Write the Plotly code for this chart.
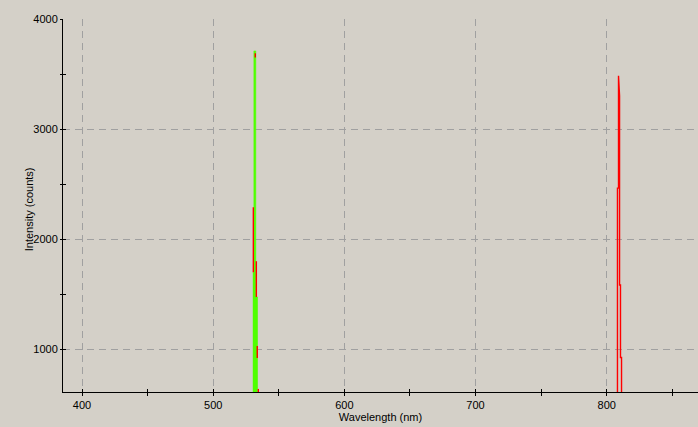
import plotly.graph_objects as go

# green channel peak near 531 nm (step edges in nm, counts)
green_wl = [530.2, 531.0, 532.5, 534.0]
green_counts = [1700, 3710, 1475, 1475]

# red channel strokes around 531 nm (None splits the strokes)
red1_wl = [530.6, 530.6, None, 532.1, 532.1, None, 532.9, 532.9, None, 533.6, 533.6, None, 534.4, 534.4]
red1_counts = [2290, 1700, None, 3690, 3650, None, 1800, 1475, None, 1030, 920, None, 640, 600]

# red channel peak near 810 nm
red2_wl = [808.2, 808.2, 809.0, 809.0, 809.8, 809.8, 810.5, 810.5, 811.3, 811.3]
red2_counts = [0, 2464, 2464, 3485, 3303, 1584, 1584, 926, 926, 0]

bg = '#d4d0c8'

fig = go.Figure()
fig.add_trace(go.Scatter(x=green_wl, y=green_counts, mode='lines', line_shape='hv',
                         fill='tozeroy', fillcolor='#50ff00',
                         line=dict(color='#50ff00', width=0.5)))
fig.add_trace(go.Scatter(x=red1_wl, y=red1_counts, mode='lines',
                         line=dict(color='#ff0000', width=1.4)))
fig.add_trace(go.Scatter(x=red2_wl, y=red2_counts, mode='lines',
                         line=dict(color='#ff0000', width=1.4)))
# dummy traces so the overlay axes (inner half of the ticks) get drawn
fig.add_trace(go.Scatter(x=[None], y=[None], xaxis='x2', yaxis='y'))
fig.add_trace(go.Scatter(x=[None], y=[None], xaxis='x', yaxis='y2'))

fig.update_layout(
    width=698, height=427,
    margin=dict(l=63, r=0, t=19, b=35),
    paper_bgcolor=bg, plot_bgcolor=bg,
    showlegend=False,
    font=dict(family='Liberation Sans, Arial, sans-serif', size=11, color='black'),
    xaxis=dict(range=[385.5, 869.6], tick0=400, dtick=100, automargin=False,
               showline=True, linecolor='black', linewidth=1,
               ticks='outside', ticklen=3, tickcolor='black',
               minor=dict(dtick=50, ticks='outside', ticklen=3, tickcolor='black', showgrid=False),
               showgrid=True, gridcolor='#a0a0a0', griddash='7px,5px', gridwidth=1,
               zeroline=False,
               title=dict(text='Wavelength (nm)', standoff=2, font=dict(size=11))),
    yaxis=dict(range=[612, 4000], tick0=0, dtick=1000, automargin=False,
               showline=True, linecolor='black', linewidth=1,
               ticks='outside', ticklen=2, tickcolor='black',
               minor=dict(dtick=500, ticks='outside', ticklen=2, tickcolor='black', showgrid=False),
               showgrid=True, gridcolor='#a0a0a0', griddash='7px,5px', gridwidth=1,
               zeroline=False),
    xaxis2=dict(overlaying='x', matches='x', anchor='y', side='bottom', automargin=False,
                showline=False, showgrid=False, zeroline=False, showticklabels=False,
                tick0=400, dtick=100, ticks='inside', ticklen=3, tickcolor='black',
                minor=dict(dtick=50, ticks='inside', ticklen=3, tickcolor='black')),
    yaxis2=dict(overlaying='y', matches='y', anchor='x', side='left', automargin=False,
                showline=False, showgrid=False, zeroline=False, showticklabels=False,
                tick0=0, dtick=1000, ticks='inside', ticklen=3, tickcolor='black',
                minor=dict(dtick=500, ticks='inside', ticklen=3, tickcolor='black')),
)

# y axis title placed by hand, close to the tick labels like the original
fig.add_annotation(text='Intensity (counts)', textangle=-90, showarrow=False,
                   xref='paper', yref='paper', x=-0.0535, y=0.49,
                   xanchor='center', yanchor='middle')

# page body has an 8px default margin, remove it so the chart fills the window
fig.write_html("out.html", config={'displayModeBar': False},
               post_script="document.body.style.margin='0';")
